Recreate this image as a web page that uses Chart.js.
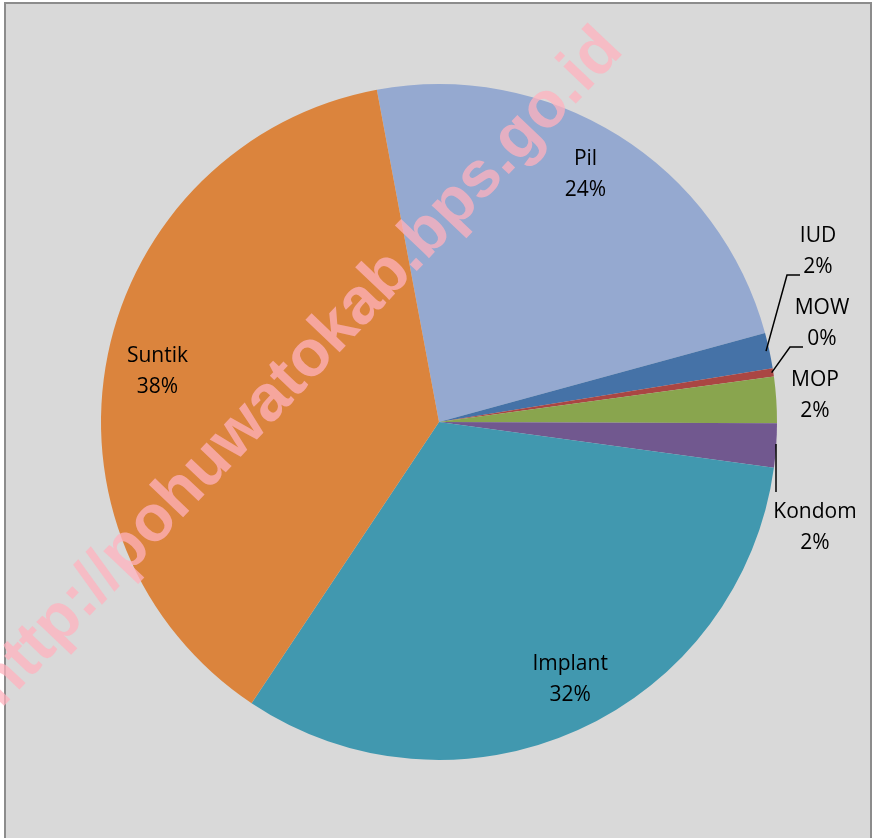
<!DOCTYPE html>
<html>
<head>
<meta charset="utf-8">
<script src="https://cdn.jsdelivr.net/npm/chart.js@4.4.1/dist/chart.umd.min.js"></script>
<style>
  html, body { margin: 0; padding: 0; background: #fff; overflow: hidden; }
  #frame {
    position: absolute; left: 4px; top: 2px; width: 864px; height: 900px;
    background: #d9d9d9; border: 2px solid #8c8c8c;
  }
  #wrap { position: absolute; left: 0; top: 0; width: 873px; height: 838px; }
</style>
</head>
<body>
<div id="frame"></div>
<div id="wrap"><canvas id="pie"></canvas></div>
<script>
// Metode KB (share, %)
const categories = ['Pil', 'IUD', 'MOW', 'MOP', 'Kondom', 'Implant', 'Suntik'];
const shares = [23.7, 1.7, 0.4, 2.2, 2.1, 32.2, 37.7];
const colors = ['#95a9d0', '#4572a7', '#aa4643', '#89a54e', '#71588f', '#4198af', '#db843d'];
const watermark = 'http://pohuwatokab.bps.go.id';

const FONT = '21px "Open Sans", "Liberation Sans", sans-serif';

// label placement: inside ones follow the slice mid angle, small ones sit outside
const inside = {
  'Pil':     { f: 0.85, dx: -6, dy: -4 },
  'Implant': { f: 0.85, dx: 13, dy: -5 },
  'Suntik':  { f: 0.85, dx: 0,  dy: 6 }
};
const outside = {
  'IUD':    { dx: 379, dy: -171, line: [[0.99, 0], [348, -147], [361, -147]] },
  'MOW':    { dx: 383, dy: -99,  line: [[0.995, 0], [351, -75], [364, -75]] },
  'MOP':    { dx: 376, dy: -27 },
  'Kondom': { dx: 376, dy: 105,  line: [[337, 22], [337, 70]] }
};

const labelPlugin = {
  id: 'sliceLabels',
  afterDatasetsDraw(chart) {
    const ctx = chart.ctx;
    const meta = chart.getDatasetMeta(0);
    const arc0 = meta.data[0];
    const cx = arc0.x, cy = arc0.y, R = arc0.outerRadius;

    // watermark
    ctx.save();
    ctx.translate(cx - 139, cy - 54);
    ctx.rotate(-46.5 * Math.PI / 180);
    ctx.font = 'bold 65px "Liberation Sans", Arial, sans-serif';
    ctx.fillStyle = 'rgba(255, 178, 190, 0.75)';
    ctx.textAlign = 'center';
    ctx.textBaseline = 'middle';
    ctx.fillText(watermark, 0, 0);
    ctx.restore();

    ctx.save();
    ctx.font = FONT;
    ctx.fillStyle = '#000';
    ctx.textAlign = 'center';
    ctx.textBaseline = 'middle';
    ctx.strokeStyle = '#000';
    ctx.lineWidth = 1.5;
    meta.data.forEach((arc, i) => {
      const name = categories[i];
      const pct = Math.round(shares[i]) + '%';
      const mid = (arc.startAngle + arc.endAngle) / 2;
      let x, y;
      if (inside[name]) {
        const o = inside[name];
        x = cx + Math.cos(mid) * R * o.f + o.dx;
        y = cy + Math.sin(mid) * R * o.f + o.dy;
      } else {
        const o = outside[name];
        x = cx + o.dx; y = cy + o.dy;
        if (o.line) {
          ctx.beginPath();
          o.line.forEach((p, k) => {
            let px, py;
            if (k === 0 && p[0] <= 1) {
              px = cx + Math.cos(mid) * R * p[0];
              py = cy + Math.sin(mid) * R * p[0];
            } else { px = cx + p[0]; py = cy + p[1]; }
            if (k === 0) ctx.moveTo(px, py); else ctx.lineTo(px, py);
          });
          ctx.stroke();
        }
      }
      ctx.fillText(name, x, y - 15);
      ctx.fillText(pct, x, y + 16);
    });
    ctx.restore();
  }
};

new Chart(document.getElementById('pie'), {
  type: 'pie',
  data: {
    labels: categories,
    datasets: [{
      data: shares,
      backgroundColor: colors,
      borderWidth: 0
    }]
  },
  options: {
    responsive: true,
    maintainAspectRatio: false,
    animation: false,
    rotation: -10.6,
    layout: { padding: { left: 101, right: 96, top: 84, bottom: 78 } },
    plugins: {
      legend: { display: false },
      tooltip: { enabled: false }
    }
  },
  plugins: [labelPlugin]
});
</script>
</body>
</html>
